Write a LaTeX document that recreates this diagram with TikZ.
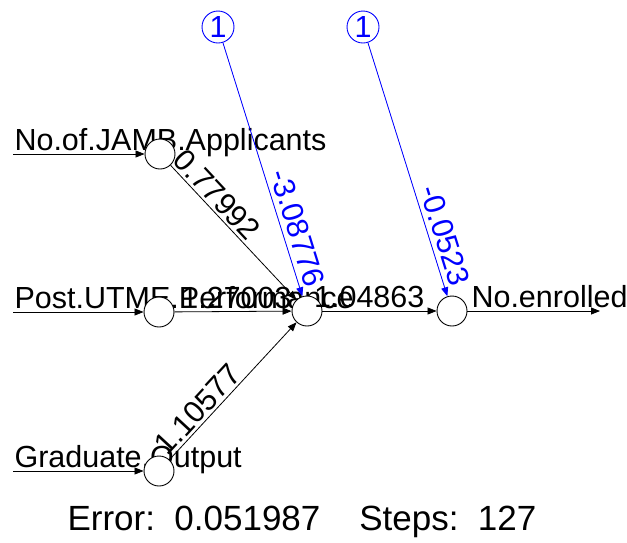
\documentclass[tikz,border=0pt]{standalone}
\usepackage{fontspec}
\setmainfont{Liberation Sans}
\usetikzlibrary{arrows.meta}
\begin{document}
\begin{tikzpicture}[x=1pt,y=-1pt,
  neuron/.style={circle,draw=black,fill=white,line width=0.9pt,minimum size=30pt,inner sep=0pt},
  biasnode/.style={circle,draw=blue,line width=0.9pt,minimum size=32pt,inner sep=0pt,text=blue,font=\fontsize{30.5}{36}\selectfont},
  conn/.style={line width=0.8pt,-{Triangle[length=9pt,width=7pt]}},
  biasconn/.style={conn,draw=blue,fill=blue},
  lbl/.style={font=\fontsize{30.5}{36}\selectfont},
  wlbl/.style={lbl,sloped,above,inner sep=2.5pt},
  blbl/.style={wlbl,text=blue,inner sep=5pt},
]
\useasboundingbox (0,0) rectangle (627,542);
% input / output labels
\node[lbl,anchor=base west] (t1) at (11,150) {No.of.JAMB.Applicants};
\node[lbl,anchor=base west] (t2) at (11,308) {Post.UTME.Performance};
\node[lbl,anchor=base west] (t3) at (11,467) {Graduate.Output};
\node[lbl,anchor=base west] (t4) at (468,307) {No.enrolled};
% neurons
\node[neuron] (i1) at (160,154) {};
\node[neuron] (i2) at (159,312) {};
\node[neuron] (i3) at (159,471) {};
\node[neuron] (h) at (307,311) {};
\node[neuron] (o) at (452,311) {};
\node[biasnode] (b1) at (218,27) {1};
\node[biasnode] (b2) at (363,27) {1};
% free ends
\coordinate (s1) at (13,154);
\coordinate (s2) at (13,312);
\coordinate (s3) at (13,471);
\coordinate (e) at (600,311);
% connectors
\draw[conn] (s1) -- (i1);
\draw[conn] (s2) -- (i2);
\draw[conn] (s3) -- (i3);
\draw[conn] (i1) -- node[wlbl,pos=0.29] (w1) {0.77992} (h);
\draw[conn] (i2) -- node[wlbl,pos=0.53] (w2) {1.27003} (h);
\draw[conn] (i3) -- node[wlbl,pos=0.30] (w3) {1.10577} (h);
\draw[conn] (h) -- node[wlbl,pos=0.41] (w4) {1.04863} (o);
\draw[conn] (o) -- (e);
\draw[biasconn] (b1) -- node[blbl,pos=0.75] (w5) {-3.08776} (h);
\draw[biasconn] (b2) -- node[blbl,pos=0.78] (w6) {-0.0523} (o);
% footer
\node[anchor=base west,font=\fontsize{35}{42}\selectfont] (err) at (64,530) {Error:\ \ 0.051987\ \ \ \ Steps:\ \ 127};
\end{tikzpicture}
\end{document}
